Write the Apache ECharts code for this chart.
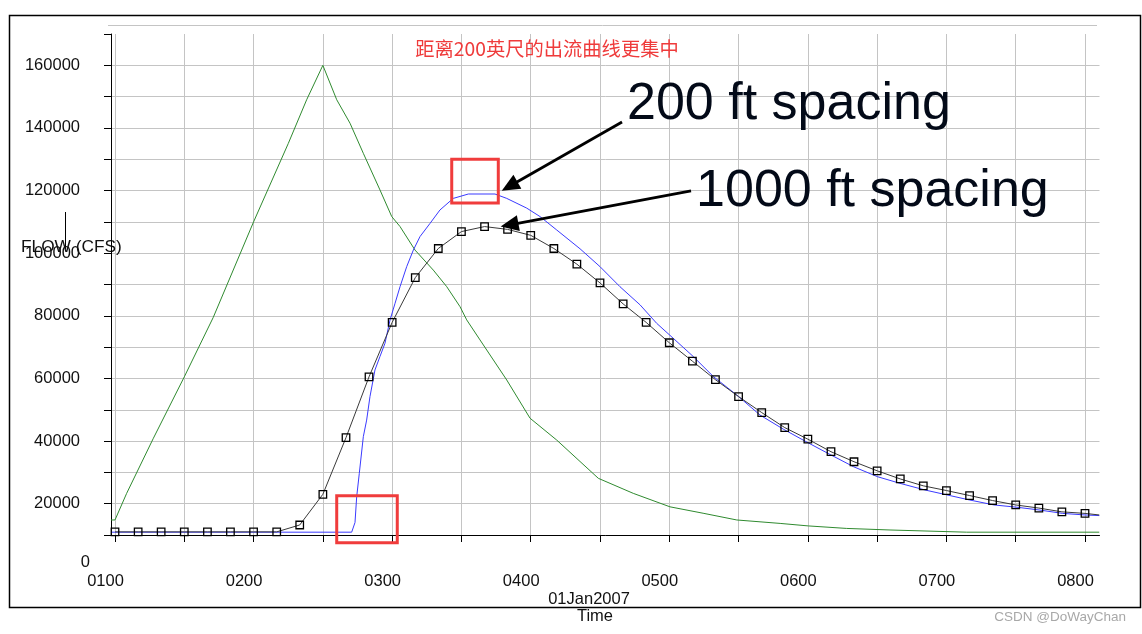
<!DOCTYPE html>
<html><head><meta charset="utf-8">
<script src="https://cdn.jsdelivr.net/npm/echarts@6/dist/echarts.min.js"></script>
<style>html,body{margin:0;padding:0;background:#fff}#c{width:1142px;height:634px}</style>
</head><body><div id="c"></div>
<script>
// ---- data (time in hours of 01Jan2007, flow in cfs) ----
const hourLabels = [1, 2, 3, 4, 5, 6, 7, 8];
const halfHourTicks = [1, 1.5, 2, 2.5, 3, 3.5, 4, 4.5, 5, 5.5, 6, 6.5, 7, 7.5, 8];
const yLabelValues = [20000, 40000, 60000, 80000, 100000, 120000, 140000, 160000];

const inflow = [
  [0.971,14800],[1.0,14800],[1.084,23300],[1.277,40900],[1.5,60500],[1.709,79500],[2.0,110000],
  [2.25,135000],[2.383,149000],[2.5,160000],[2.6,149000],[2.696,141500],[2.792,131900],[2.912,120200],
  [2.997,111700],[3.057,108500],[3.165,101000],[3.297,94600],[3.394,89300],[3.49,82900],[3.538,78700],
  [3.634,72300],[3.827,59500],[3.995,47300],[4.188,40300],[4.488,28100],[4.74,23300],[5.005,19000],
  [5.25,16900],[5.487,14800],[5.8,13700],[6.003,12900],[6.28,12100],[6.593,11600],[7.146,10900],[8.103,10900]
];

const outflow200 = [
  [0.971,10900],[2.708,10900],[2.732,14000],[2.744,22200],[2.763,29700],[2.792,41400],[2.816,46700],
  [2.84,54200],[2.876,62700],[2.912,67000],[2.948,71200],[2.985,78700],[3.021,84000],[3.057,89300],
  [3.105,95700],[3.153,101000],[3.201,105300],[3.273,109500],[3.345,113800],[3.441,117500],[3.55,118900],
  [3.742,118900],[3.827,117500],[3.971,114400],[4.067,111700],[4.188,107400],[4.356,101400],[4.5,95700],
  [4.644,89300],[4.789,83500],[4.909,77600],[5.029,72800],[5.173,67000],[5.318,60600],[5.487,54700],
  [5.655,48300],[5.823,43800],[6.008,39300],[6.165,35600],[6.33,31800],[6.504,28600],[6.665,26500],
  [6.843,24400],[7.004,22800],[7.165,21200],[7.343,19600],[7.502,18900],[7.668,18000],[7.839,16900],
  [8.0,16400],[8.103,16200]
];

const outflow1000 = [
  [1.0,11000],[1.167,11000],[1.333,11000],[1.5,11000],[1.667,11000],[1.833,11000],[2.0,11000],[2.167,11000],
  [2.333,13200],[2.5,23000],[2.667,41100],[2.833,60500],[3.0,77900],[3.167,92200],[3.333,101500],
  [3.5,106900],[3.667,108500],[3.833,107600],[4.0,105700],[4.167,101500],[4.333,96500],[4.5,90500],
  [4.667,83800],[4.833,77900],[5.0,71400],[5.167,65500],[5.333,59600],[5.5,54200],[5.667,49100],
  [5.833,44300],[6.0,40600],[6.167,36600],[6.333,33400],[6.5,30500],[6.667,27900],[6.833,25700],
  [7.0,24200],[7.167,22600],[7.333,21000],[7.5,19600],[7.667,18600],[7.833,17400],[8.0,16900],[8.103,16400]
];

// annotation anchors in data space
const boxAnno = [[3.43,130000,3.766,116000],[2.6,22550,3.037,7540]];
const arrowAnno = [[[4.659,141900],[3.791,119970]],[[5.157,119870],[3.783,108530]]];
const textAnno = [['200 ft spacing',[4.695,142230]],['1000 ft spacing',[5.193,114440]]];

// ---- chart ----
const FONT = 'Liberation Sans, Arial, sans-serif';
const chart = echarts.init(document.getElementById('c'), null, {renderer: 'canvas'});
const fmtHour = v => String(Math.round(v * 100)).padStart(4, '0');

chart.setOption({
  animation: false,
  backgroundColor: '#fff',
  grid: {left: 111, right: 42.5, top: 34, bottom: 99, containLabel: false},
  xAxis: {
    type: 'value', min: 0.9711, max: 8.1046,
    axisLine: {show: true, onZero: false, lineStyle: {color: '#000', width: 1}},
    axisTick: {show: true, customValues: halfHourTicks, length: 7, lineStyle: {color: '#000'}},
    axisLabel: {customValues: hourLabels, formatter: fmtHour, margin: 38, fontFamily: FONT,
      fontSize: 16.5, color: '#111', lineHeight: 17, padding: [0, 19, 0, 0]},
    splitLine: {show: true, lineStyle: {color: '#c4c4c4', width: 1}}
  },
  yAxis: {
    type: 'value', min: 10000, max: 170000, interval: 10000,
    axisLine: {show: true, onZero: false, lineStyle: {color: '#000', width: 1}},
    axisTick: {show: true, length: 7, lineStyle: {color: '#000'}},
    axisLabel: {formatter: v => yLabelValues.indexOf(v) >= 0 ? String(v) : '', margin: 31,
      fontFamily: FONT, fontSize: 16.5, color: '#111', padding: [0, 0, 7, 0]},
    splitLine: {show: true, showMaxLine: false, lineStyle: {color: '#c4c4c4', width: 1}}
  },
  series: [
    {type: 'line', data: inflow, showSymbol: false, symbol: 'none',
      lineStyle: {color: '#2f8a2f', width: 1}, itemStyle: {color: '#2f8a2f'}, z: 2},
    {type: 'line', data: outflow200, showSymbol: false, symbol: 'none',
      lineStyle: {color: '#3a3aff', width: 1}, itemStyle: {color: '#3a3aff'}, z: 3},
    {type: 'line', data: outflow1000, showAllSymbol: true,
      symbol: v => (v[0] > 8.01 ? 'none' : 'rect'), symbolSize: 7.5,
      lineStyle: {color: '#3a3a3a', width: 1},
      itemStyle: {color: 'rgba(255,255,255,0)', borderColor: '#000', borderWidth: 1.3}, z: 4}
  ]
});

// ---- overlay graphics (annotations in data coordinates, page decoration in page layout) ----
const P = p => chart.convertToPixel({gridIndex: 0}, p);
const g = [];
g.push({type: 'rect', shape: {x: 9.5, y: 15.5, width: 1131, height: 592}, style: {fill: 'none', stroke: '#000', lineWidth: 1.5}, silent: true, z: 1});
g.push({type: 'line', shape: {x1: 108, y1: 25.5, x2: 1097, y2: 25.5}, style: {stroke: '#c4c4c4', lineWidth: 1}, silent: true});
g.push({type: 'line', shape: {x1: 65.5, y1: 212, x2: 65.5, y2: 249}, style: {stroke: '#000', lineWidth: 1}, silent: true});
g.push({type: 'text', style: {text: 'FLOW (CFS)', x: 21, y: 247, verticalAlign: 'middle', font: '17.3px ' + FONT, fill: '#111'}, silent: true});
const zeroPx = P([1, 0]);
g.push({type: 'text', style: {text: '0', x: 90, y: zeroPx[1] - 3.5, align: 'right', verticalAlign: 'middle', font: '16.5px ' + FONT, fill: '#111'}, silent: true});
g.push({type: 'text', style: {text: '01Jan2007', x: 589, y: 599, align: 'center', verticalAlign: 'middle', font: '16.5px ' + FONT, fill: '#111'}, silent: true});
g.push({type: 'text', style: {text: 'Time', x: 595, y: 616, align: 'center', verticalAlign: 'middle', font: '16.5px ' + FONT, fill: '#111'}, silent: true});
g.push({type: 'text', style: {text: 'CSDN @DoWayChan', x: 1126, y: 617, align: 'right', verticalAlign: 'middle', font: '13.5px ' + FONT, fill: '#a8a8a8'}, silent: true});
g.push({type: 'text', style: {text: '距离200英尺的出流曲线更集中', x: 547, y: 49, align: 'center', verticalAlign: 'middle',
  font: '19.3px "Noto Sans CJK SC", sans-serif', fill: '#ef3b3b'}, silent: true});

boxAnno.forEach(b => {
  const a = P([b[0], b[1]]), c = P([b[2], b[3]]);
  g.push({type: 'rect', shape: {x: a[0], y: a[1], width: c[0] - a[0], height: c[1] - a[1]},
    style: {fill: 'none', stroke: '#f03c3c', lineWidth: 3}, silent: true, z: 10});
});
arrowAnno.forEach(ar => {
  const s = P(ar[0]), t = P(ar[1]);
  const dx = t[0] - s[0], dy = t[1] - s[1], len = Math.hypot(dx, dy);
  const ux = dx / len, uy = dy / len, L = 18, W = 8;
  const bx = t[0] - ux * L, by = t[1] - uy * L;
  g.push({type: 'line', shape: {x1: s[0], y1: s[1], x2: bx + ux * 2, y2: by + uy * 2},
    style: {stroke: '#000', lineWidth: 2.8}, silent: true, z: 10});
  g.push({type: 'polygon', shape: {points: [[t[0], t[1]], [bx - uy * W, by + ux * W], [bx + uy * W, by - ux * W]]},
    style: {fill: '#000'}, silent: true, z: 10});
});
textAnno.forEach(tx => {
  const p = P(tx[1]);
  g.push({type: 'text', style: {text: tx[0], x: p[0], y: p[1] - 0.31 * 52, verticalAlign: 'middle',
    font: '52px ' + FONT, fill: '#030a18'}, silent: true, z: 10});
});
chart.setOption({graphic: g});
</script></body></html>
